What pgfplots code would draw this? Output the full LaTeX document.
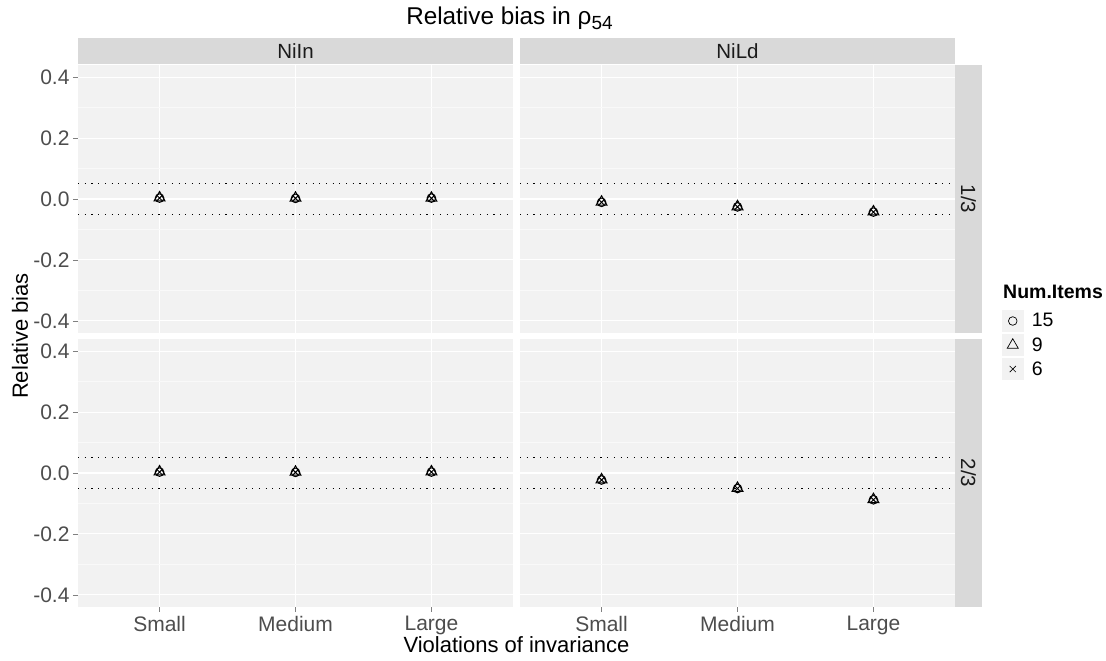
\documentclass[border=0pt]{standalone}
\usepackage{pgfplots}
\pgfplotsset{compat=1.18}
\usepackage{fontspec}
\setmainfont{Liberation Sans}
\definecolor{panelbg}{HTML}{F2F2F2}
\definecolor{stripbg}{HTML}{D9D9D9}
\definecolor{tickgray}{HTML}{4D4D4D}
\definecolor{stripfg}{HTML}{1A1A1A}
\newcommand\fs[1]{\fontsize{#1}{#1}\selectfont}

\pgfplotsset{
  facet/.style={
    scale only axis, width=435pt, height=268pt,
    xmin=0.4, xmax=3.6, ymin=-0.44, ymax=0.44,
    axis line style={draw=none},
    axis background/.style={fill=panelbg},
    grid=both,
    major grid style={white, line width=1.1pt},
    minor grid style={white!55!panelbg, line width=0.5pt},
    xtick={1,2,3}, ytick={-0.4,-0.2,0,0.2,0.4},
    minor ytick={-0.3,-0.1,0.1,0.3},
    minor tick length=0pt,
    tick pos=left,
    tick align=outside, major tick length=5pt,
    tick style={color=gray, line width=0.6pt},
    ticklabel style={font=\fs{21}, color=tickgray},
    xticklabel style={yshift=-1pt},
    yticklabel style={/pgf/number format/.cd, fixed, fixed zerofill, precision=1, assume math mode=true},
    clip=false,
  },
  hidey/.style={yticklabels={}, ytick style={draw opacity=0}},
  hidex/.style={xticklabels={}, xtick style={draw opacity=0}},
  showx/.style={xticklabels={Small,Medium,Large}},
  refline/.style={black, line width=1.1pt, dash pattern=on 1.1pt off 5.6pt, forget plot},
  m15/.style={only marks, mark=o, mark size=4.3pt, black, line width=1pt},
  m9/.style={only marks, mark=triangle, mark size=6.3pt, black, line width=1pt},
  m6/.style={only marks, mark=x, mark size=4.3pt, black, line width=1pt},
  keybox/.style={legend image code/.code={%
      \fill[panelbg, draw=none] (0pt,-11pt) rectangle (22pt,11pt);
      \draw[##1, line width=0.7pt] plot coordinates {(11pt,0pt)};}},
}

% Values: x = 1 Small, 2 Medium, 3 Large
\pgfplotstableread{
x   n15     n9      n6
1   0.003   0.004   0.003
2   0.002   0.003   0.002
3   0.003   0.003   0.002
}\TopLeft
\pgfplotstableread{
x   n15     n9      n6
1   -0.011  -0.010  -0.011
2   -0.026  -0.025  -0.026
3   -0.043  -0.042  -0.043
}\TopRight
\pgfplotstableread{
x   n15     n9      n6
1   0.003   0.004   0.003
2   0.002   0.003   0.002
3   0.003   0.004   0.003
}\BotLeft
\pgfplotstableread{
x   n15     n9      n6
1   -0.023  -0.022  -0.023
2   -0.051  -0.050  -0.051
3   -0.088  -0.087  -0.088
}\BotRight

\begin{document}
\begin{tikzpicture}[x=1pt,y=1pt]
\path[use as bounding box] (0,0) rectangle (1106,661);

% strips
\fill[stripbg] (78,597) rectangle (513,623);
\fill[stripbg] (520,597) rectangle (955,623);
\fill[stripbg] (955,328) rectangle (982,596);
\fill[stripbg] (955,54) rectangle (982,322);
\node[font=\fs{20.5}, text=stripfg] at (295.5,610) {NiIn};
\node[font=\fs{20.5}, text=stripfg] at (737.5,610) {NiLd};
\node[font=\fs{20.5}, text=stripfg, rotate=-90] at (968.5,462) {1/3};
\node[font=\fs{20.5}, text=stripfg, rotate=-90] at (968.5,188) {2/3};

% top-left
\begin{axis}[facet, hidex, at={(78pt,328pt)}, anchor=south west]
  \addplot[refline] coordinates {(0.4,0.05) (3.6,0.05)};
  \addplot[refline] coordinates {(0.4,-0.05) (3.6,-0.05)};
  \addplot[m15] table[x=x,y=n15] {\TopLeft};
  \addplot[m9]  table[x=x,y=n9]  {\TopLeft};
  \addplot[m6]  table[x=x,y=n6]  {\TopLeft};
\end{axis}
% top-right
\begin{axis}[facet, hidex, hidey, at={(520pt,328pt)}, anchor=south west]
  \addplot[refline] coordinates {(0.4,0.05) (3.6,0.05)};
  \addplot[refline] coordinates {(0.4,-0.05) (3.6,-0.05)};
  \addplot[m15] table[x=x,y=n15] {\TopRight};
  \addplot[m9]  table[x=x,y=n9]  {\TopRight};
  \addplot[m6]  table[x=x,y=n6]  {\TopRight};
\end{axis}
% bottom-left
\begin{axis}[facet, showx, at={(78pt,54pt)}, anchor=south west]
  \addplot[refline] coordinates {(0.4,0.05) (3.6,0.05)};
  \addplot[refline] coordinates {(0.4,-0.05) (3.6,-0.05)};
  \addplot[m15] table[x=x,y=n15] {\BotLeft};
  \addplot[m9]  table[x=x,y=n9]  {\BotLeft};
  \addplot[m6]  table[x=x,y=n6]  {\BotLeft};
\end{axis}
% bottom-right (carries the legend)
\begin{axis}[facet, showx, hidey, at={(520pt,54pt)}, anchor=south west,
  legend style={draw=none, fill=none, at={(1.107,0.9776)}, anchor=west,
    font=\fs{19.5}, row sep=2pt, inner sep=0pt,
    /tikz/every odd column/.append style={column sep=6pt},
    cells={anchor=west}},
  legend cell align=left]
  \addplot[refline] coordinates {(0.4,0.05) (3.6,0.05)};
  \addplot[refline] coordinates {(0.4,-0.05) (3.6,-0.05)};
  \addplot[m15, keybox] table[x=x,y=n15] {\BotRight};
  \addlegendentry{15}
  \addplot[m9, keybox]  table[x=x,y=n9]  {\BotRight};
  \addlegendentry{9}
  \addplot[m6, keybox]  table[x=x,y=n6]  {\BotRight};
  \addlegendentry{6}
\end{axis}

% titles
\node[font=\bfseries\fs{19.5}, anchor=west, inner sep=0pt] at (1003,369) {Num.Items};
\node[font=\fs{24.3}] at (509.5,643) {Relative bias in ρ\raisebox{-5pt}{\fs{19}54}};
\node[font=\fs{22}] at (516.5,16) {Violations of invariance};
\node[font=\fs{22}, rotate=90] at (20,325) {Relative bias};
\end{tikzpicture}
\end{document}
